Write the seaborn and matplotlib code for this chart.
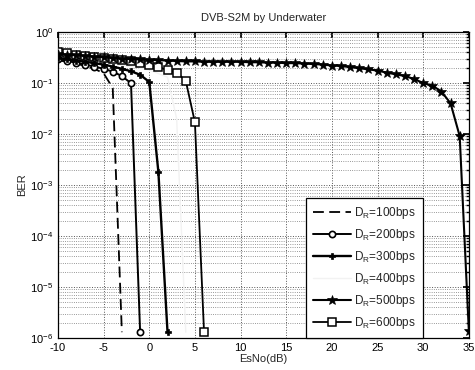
import matplotlib
matplotlib.use("Agg")
import matplotlib.pyplot as plt
import seaborn as sns
import numpy as np
import pandas as pd
from matplotlib.ticker import LogLocator, FixedLocator, NullFormatter

sns.set_theme(style="white")
plt.rcParams['font.family'] = ['Liberation Sans', 'DejaVu Sans']
plt.rcParams['mathtext.default'] = 'regular'
plt.rcParams['axes.unicode_minus'] = False

# ---- data ----
x100 = [-10, -9, -8, -7, -6, -5, -4, -3]
ber100 = [0.28, 0.26, 0.24, 0.215, 0.19, 0.155, 0.08, 1.3e-6]

x200 = [-10, -9, -8, -7, -6, -5, -4, -3, -2, -1]
ber200 = [0.29, 0.27, 0.25, 0.23, 0.21, 0.19, 0.167, 0.137, 0.099, 1.3e-6]

x300 = [-10, -9, -8, -7, -6, -5, -4, -3, -2, -1, 0, 1, 2]
ber300 = [0.31, 0.29, 0.275, 0.26, 0.245, 0.23, 0.21, 0.19, 0.17, 0.145, 0.105, 1.8e-3, 1.3e-6]

x400 = [-10, -8, -6, -4, -2, 0, 2, 3, 4]
ber400 = [0.33, 0.3, 0.27, 0.24, 0.21, 0.18, 0.13, 0.02, 1.3e-6]

x500 = list(range(-10, 36))
ber500 = [0.37, 0.36, 0.35, 0.34, 0.33, 0.32, 0.31, 0.30, 0.295, 0.29,
          0.285, 0.28, 0.275, 0.27, 0.265, 0.265, 0.26, 0.26, 0.26, 0.26,
          0.26, 0.255, 0.255, 0.25, 0.25, 0.245, 0.245, 0.24, 0.235, 0.23,
          0.22, 0.215, 0.205, 0.195, 0.185, 0.175, 0.16, 0.148, 0.137, 0.12,
          0.10, 0.089, 0.068, 0.040, 0.0091, 1.4e-6]

x600 = [-10, -9, -8, -7, -6, -5, -4, -3, -2, -1, 0, 1, 2, 3, 4, 5, 6]
ber600 = [0.40, 0.38, 0.36, 0.345, 0.33, 0.315, 0.30, 0.285, 0.27, 0.25,
          0.23, 0.205, 0.18, 0.16, 0.11, 0.017, 1.3e-6]

labels = [r'D$_R$=100bps', r'D$_R$=200bps', r'D$_R$=300bps',
          r'D$_R$=400bps', r'D$_R$=500bps', r'D$_R$=600bps']

xticks = [-10, -5, 0, 5, 10, 15, 20, 25, 30, 35]
title = 'DVB-S2M by Underwater'
xlabel = 'EsNo(dB)'
ylabel = 'BER'

# ---- figure ----
fig = plt.figure(figsize=(4.75, 3.7), dpi=100)
ax = fig.add_axes([0.122, 0.0865, 0.865, 0.827])
ax.set_yscale('log')

series = [
    (x100, ber100, dict(color='black', linestyle=(0, (6, 3)), lw=1.3, marker=None)),
    (x200, ber200, dict(color='black', lw=1.4, marker='o', ms=4.5, mfc='white', mec='black', mew=1.2)),
    (x300, ber300, dict(color='black', lw=1.7, marker='P', ms=4.5, mfc='black', mec='black', mew=0.5)),
    (x400, ber400, dict(color='#f2f2f2', lw=1.0, marker=None)),
    (x500, ber500, dict(color='black', lw=1.5, marker='*', ms=7, mfc='black', mec='black', mew=0.5)),
    (x600, ber600, dict(color='black', lw=1.3, marker='s', ms=5.5, mfc='white', mec='black', mew=1.1)),
]
zorders = [3, 3, 3, 1, 4, 3]
for (xs, ys, kw), lab, z in zip(series, labels, zorders):
    df = pd.DataFrame({'x': xs, 'y': ys})
    sns.lineplot(data=df, x='x', y='y', ax=ax, label=lab, zorder=z, **kw)

ax.set_xlim(-10, 35)
ax.set_ylim(1e-6, 1)
ax.xaxis.set_major_locator(FixedLocator(xticks))
ax.yaxis.set_major_locator(LogLocator(base=10, numticks=10))
ax.yaxis.set_minor_locator(LogLocator(base=10, subs=np.arange(2, 10), numticks=20))
ax.yaxis.set_minor_formatter(NullFormatter())

ax.grid(True, which='major', axis='both', color='#555555', linestyle=':', linewidth=0.7)
ax.grid(True, which='minor', axis='y', color='#777777', linestyle=':', linewidth=0.6)

ax.tick_params(axis='both', which='both', direction='in', top=True, right=True,
               labelsize=8, colors='black')
ax.tick_params(which='major', length=4)
ax.tick_params(which='minor', length=2)
for sp in ax.spines.values():
    sp.set_color('black')
    sp.set_linewidth(0.9)

ax.set_title(title, fontsize=8, pad=8)
ax.set_xlabel(xlabel, fontsize=8, labelpad=1)
ax.set_ylabel(ylabel, fontsize=8, labelpad=2)

leg = ax.legend(loc='lower left', bbox_to_anchor=(0.603, 0.0), borderaxespad=0,
                fontsize=8.5, frameon=True, fancybox=False, framealpha=1,
                edgecolor='black', handlelength=3.2, labelspacing=0.5,
                borderpad=0.6, handletextpad=0.3)
leg.get_frame().set_linewidth(0.9)

fig.savefig('out.png', dpi=100)
